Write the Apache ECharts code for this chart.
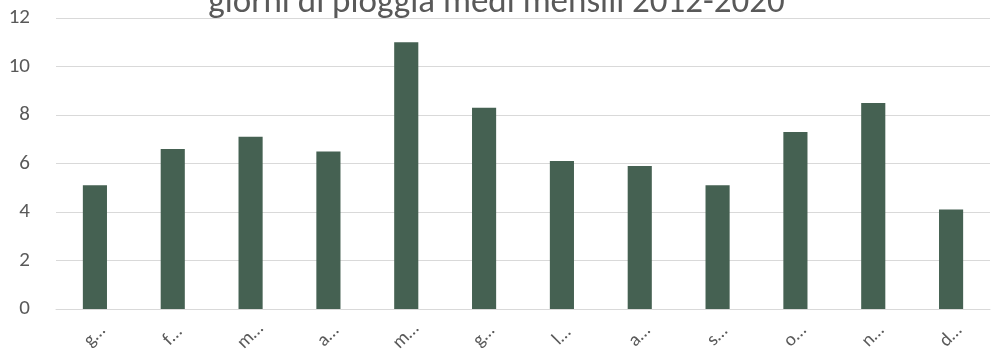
<!DOCTYPE html>
<html lang="it">
<head>
    <meta charset="UTF-8">
    <title>giorni di pioggia</title>
    <script src="https://cdn.jsdelivr.net/npm/echarts@6/dist/echarts.min.js"></script>
    <style>
        html, body { margin: 0; padding: 0; background: #fff; }
        #main { width: 993px; height: 352px; }
    </style>
</head>
<body>
<div id="main"></div>
<script>
    var months = ['gennaio', 'febbraio', 'marzo', 'aprile', 'maggio', 'giugno',
        'luglio', 'agosto', 'settembre', 'ottobre', 'novembre', 'dicembre'];
    var rainDays = [5.1, 6.6, 7.1, 6.5, 11.0, 8.3, 6.1, 5.9, 5.1, 7.3, 8.5, 4.1];
    var yTicks = [0, 2, 4, 6, 8, 10, 12];

    var font = 'Carlito, Calibri, Lato, sans-serif';
    var myChart = echarts.init(document.getElementById('main'));

    var option = {
        backgroundColor: '#fff',
        animation: false,
        title: {
            text: 'giorni di pioggia medi mensili 2012-2020',
            left: 'center',
            top: -19,
            textStyle: { fontFamily: font, fontSize: 35, fontWeight: 'normal', color: '#595959' }
        },
        grid: { left: 56, right: 3, top: 18, bottom: 43, outerBoundsMode: 'none' },
        xAxis: {
            type: 'category',
            data: months,
            axisLine: { lineStyle: { color: '#d9d9d9', width: 1 } },
            axisTick: { show: false },
            axisLabel: {
                rotate: 45,
                align: 'center',
                verticalAlign: 'middle',
                margin: 27,
                color: '#595959',
                fontFamily: font,
                fontSize: 19,
                formatter: function (v) { return v.charAt(0) + '…'; }
            }
        },
        yAxis: {
            type: 'value',
            min: yTicks[0],
            max: yTicks[yTicks.length - 1],
            interval: 2,
            axisLine: { show: false },
            axisTick: { show: false },
            splitLine: { lineStyle: { color: '#d9d9d9', width: 1 } },
            axisLabel: { color: '#595959', fontFamily: font, fontSize: 21, margin: 26 }
        },
        series: [{
            type: 'bar',
            data: rainDays,
            barWidth: '31%',
            itemStyle: { color: '#456152' }
        }]
    };
    myChart.setOption(option);
</script>
</body>
</html>
